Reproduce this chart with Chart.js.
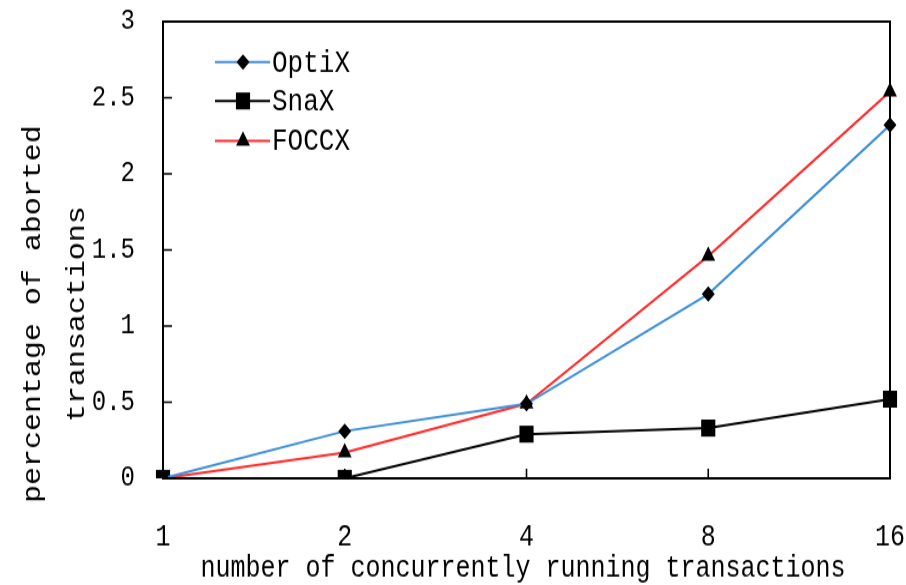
<!DOCTYPE html>
<html>
<head>
<meta charset="utf-8">
<script src="https://cdn.jsdelivr.net/npm/chart.js@4/dist/chart.umd.min.js"></script>
<style>
  html, body { margin: 0; padding: 0; background: #fff; overflow: hidden; }
  /* reference is stretched vertically: draw on 906x488 and show it at 906x585 */
  #chart { display: block; width: 906px; height: 585px; }
</style>
</head>
<body>
<canvas id="chart" width="906" height="488" style="width:906px;height:585px"></canvas>
<script>
// Data
const threads = ['1', '2', '4', '8', '16'];
const optixAborts = [0, 0.31, 0.49, 1.21, 2.32];
const snaxAborts = [0, 0, 0.29, 0.33, 0.52];
const foccxAborts = [0, 0.17, 0.49, 1.46, 2.54];
const yTicks = [0, 0.5, 1, 1.5, 2, 2.5, 3];

const xTitle = 'number of concurrently running transactions';
const yTitle = ['percentage of aborted', 'transactions'];

const FONT = '"Liberation Mono", "DejaVu Sans Mono", monospace';

const colors = {
    optix: '#3d8fd6',
    snax: '#000000',
    foccx: '#ff2b2b'
};

Chart.defaults.color = '#000';
Chart.defaults.font.family = FONT;

// box, inward ticks, legend and axis titles
const framePlugin = {
    id: 'frame',
    afterDraw(chart) {
        const ctx = chart.ctx;
        const area = chart.chartArea;
        const xs = chart.scales.x;
        const ys = chart.scales.y;
        ctx.save();
        ctx.strokeStyle = '#000';
        ctx.lineWidth = 2;
        ctx.strokeRect(area.left, area.top, area.right - area.left, area.bottom - area.top);

        ctx.lineWidth = 1.6;
        ctx.beginPath();
        yTicks.slice(1, -1).forEach(v => {
            const y = ys.getPixelForValue(v);
            ctx.moveTo(area.left, y);
            ctx.lineTo(area.left + 9, y);
        });
        for (let i = 1; i < threads.length - 1; i++) {
            const x = xs.getPixelForValue(i);
            ctx.moveTo(x, area.bottom);
            ctx.lineTo(x, area.bottom - 8);
        }
        ctx.stroke();

        // legend
        const rows = [51.7, 84.2, 117.5];
        ctx.font = '26px ' + FONT;
        ctx.textBaseline = 'middle';
        ctx.textAlign = 'left';
        chart.data.datasets.forEach((ds, i) => {
            const y = rows[i];
            ctx.strokeStyle = ds.borderColor;
            ctx.lineWidth = 2;
            ctx.beginPath();
            ctx.moveTo(215, y);
            ctx.lineTo(270, y);
            ctx.stroke();
            ctx.fillStyle = '#000';
            Chart.helpers.drawPoint(ctx, {
                pointStyle: ds.pointStyle,
                radius: ds.pointRadius,
                borderWidth: 0,
                rotation: 0
            }, 243, y);
            ctx.fillStyle = '#000';
            ctx.fillText(ds.label, 272, y + 1);
        });

        // axis titles
        ctx.fillStyle = '#000';
        ctx.font = '25px ' + FONT;
        ctx.textAlign = 'center';
        ctx.textBaseline = 'alphabetic';
        ctx.fillText(xTitle, 523, 481);

        ctx.translate(0, 262);
        ctx.rotate(-Math.PI / 2);
        ctx.textBaseline = 'middle';
        ctx.fillText(yTitle[0], 0, 33);
        ctx.fillText(yTitle[1], 0, 77);
        ctx.restore();
    }
};

const ctx = document.getElementById('chart').getContext('2d');

const chart = new Chart(ctx, {
    type: 'line',
    data: {
        labels: threads,
        datasets: [
            {
                label: 'OptiX',
                data: optixAborts,
                borderColor: colors.optix,
                backgroundColor: '#000',
                pointBackgroundColor: '#000',
                pointBorderWidth: 0,
                pointStyle: 'rectRot',
                pointRadius: 6.5,
                borderWidth: 2
            },
            {
                label: 'SnaX',
                data: snaxAborts,
                borderColor: colors.snax,
                backgroundColor: '#000',
                pointBackgroundColor: '#000',
                pointBorderWidth: 0,
                pointStyle: 'rect',
                pointRadius: 10,
                borderWidth: 2
            },
            {
                label: 'FOCCX',
                data: foccxAborts,
                borderColor: colors.foccx,
                backgroundColor: '#000',
                pointBackgroundColor: '#000',
                pointBorderWidth: 0,
                pointStyle: 'triangle',
                pointRadius: 8,
                borderWidth: 2
            }
        ]
    },
    options: {
        responsive: false,
        animation: false,
        layout: {
            padding: { left: 0, right: 16, top: 18, bottom: 0 }
        },
        plugins: {
            legend: { display: false },
            tooltip: { enabled: false },
            title: { display: false }
        },
        scales: {
            x: {
                type: 'category',
                offset: false,
                grid: { display: false, drawTicks: true, tickLength: 34 },
                border: { display: false },
                ticks: {
                    font: { size: 25 },
                    padding: 0,
                    maxRotation: 0,
                    autoSkip: false
                },
                afterFit(scale) {
                    scale.height = 89;
                }
            },
            y: {
                min: 0,
                max: 3,
                grid: { display: false, drawTicks: true, tickLength: 28 },
                border: { display: false },
                afterBuildTicks(scale) {
                    scale.ticks = yTicks.map(v => ({ value: v }));
                },
                ticks: {
                    font: { size: 24 },
                    padding: 0,
                    callback: v => String(v)
                },
                afterFit(scale) {
                    scale.width = 163;
                }
            }
        }
    },
    plugins: [framePlugin]
});
</script>
</body>
</html>
